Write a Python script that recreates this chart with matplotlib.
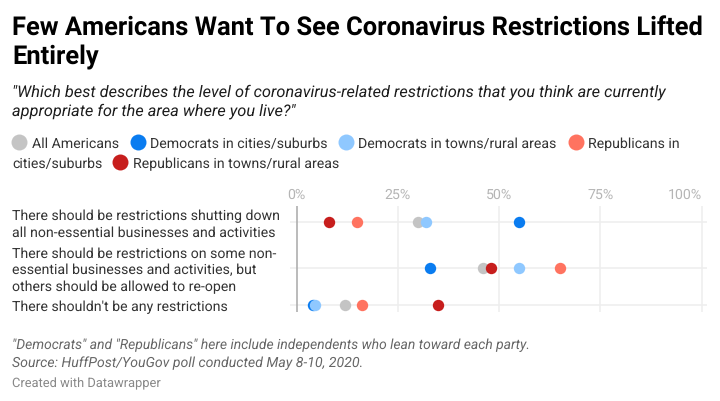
import matplotlib
matplotlib.use("Agg")
import matplotlib.pyplot as plt
from matplotlib.lines import Line2D

W, H = 720, 402
categories = [
    "There should be restrictions shutting down\nall non-essential businesses and activities",
    "There should be restrictions on some non-\nessential businesses and activities, but\nothers should be allowed to re-open",
    "There shouldn't be any restrictions",
]
series_names = ["All Americans", "Democrats in cities/suburbs", "Democrats in towns/rural areas",
                "Republicans in\ncities/suburbs", "Republicans in towns/rural areas"]
all_americans = [30, 46, 12]
dem_cities = [55, 33, 4]
dem_rural = [32, 55, 4.5]
rep_cities = [15, 65, 16]
rep_rural = [8, 48, 35]
ticks = [0, 25, 50, 75, 100]
colors = ["#c4c4c4", "#0a7cf0", "#8fc8ff", "#ff7360", "#c71e1d"]
values = [all_americans, dem_cities, dem_rural, rep_cities, rep_rural]
row_y = [223.3, 269, 306]
label_y = [223.5, 269.2, 306.5]

plt.rcParams['font.family'] = 'Roboto'
plt.rcParams['text.hinting'] = 'no_hinting'
plt.rcParams['text.hinting_factor'] = 8
fig = plt.figure(figsize=(W/100, H/100), dpi=100)

def T(x, y, s, px, **kw):
    return fig.text(x/W, 1-(y+0.355*px)/H, s, fontsize=px*0.72, va='baseline', **kw)

def dot(cx, cy, c):
    fig.add_artist(Line2D([cx/W], [1-cy/H], marker='o', ms=11.5, mfc=c, mec='none', ls='none', transform=fig.transFigure))

T(12, 26.5, "Few Americans Want To See Coronavirus Restrictions Lifted", 25.56, weight='bold', color='#000000')
T(12, 55, "Entirely", 25.56, weight='bold', color='#000000')
T(12, 90.5, "\"Which best describes the level of coronavirus-related restrictions that you think are currently", 16.4, style='italic', color='#1d1d1d')
T(12, 110, "appropriate for the area where you live?\"", 16.4, style='italic', color='#1d1d1d')

# legend
LEG = 14.15
dot(19, 143, colors[0]); T(32, 143, series_names[0], LEG, color='#333333')
dot(138, 143, colors[1]); T(150, 143, series_names[1], LEG, color='#333333')
dot(346, 143, colors[2]); T(358, 143, series_names[2], LEG, color='#333333')
dot(576, 143, colors[3])
first, second = series_names[3].split("\n")
T(588, 143, first, LEG, color='#333333')
T(12, 163, second, LEG, color='#333333')
dot(120.5, 163, colors[4]); T(133, 163, series_names[4], LEG, color='#333333')

# chart
L, R, TOP, BOT = 290, 707, 207, 313
ax = fig.add_axes([L/W, 1-BOT/H, (R-L)/W, (BOT-TOP)/H])
ppu = 4.05
x0 = 296.7
ax.set_xlim((L-x0)/ppu, (R-x0)/ppu)
ax.set_ylim(BOT, TOP)
ax.axis('off')
for t in ticks:
    ax.plot([t, t], [TOP, BOT], color='#a8a8a8' if t == 0 else '#eeeeee', lw=1.1, zorder=2 if t == 0 else 1, solid_capstyle='butt')
    if t == 100:
        T(x0 + t*ppu + 0.5, 193.5, f"{t}%", 14.1, color='#b5b5b5', ha='right')
    else:
        T(x0 + t*ppu, 193.5, f"{t}%", 14.1, color='#b5b5b5', ha='center')
for y in row_y:
    ax.plot([(L-x0)/ppu, (R-x0)/ppu], [y, y], color='#eeeeee', lw=1.1, zorder=1)
for vals, c in zip(values, colors):
    ax.plot(vals, row_y, 'o', ms=8.2, color=c, mec='none', zorder=3, clip_on=False)

lh = 16.6
for cat, yc in zip(categories, label_y):
    lines = cat.split("\n")
    for i, line in enumerate(lines):
        T(12.5, yc + (i-(len(lines)-1)/2)*lh, line, 14.1, color='#333333')

T(12, 344.5, "\"Democrats\" and \"Republicans\" here include independents who lean toward each party.", 13.95, style='italic', color='#666666')
T(12, 361.5, "Source: HuffPost/YouGov poll conducted May 8-10, 2020.", 14.1, style='italic', color='#666666')
T(12, 383, "Created with Datawrapper", 12.9, color='#888888')

fig.savefig("out.png", dpi=100)
